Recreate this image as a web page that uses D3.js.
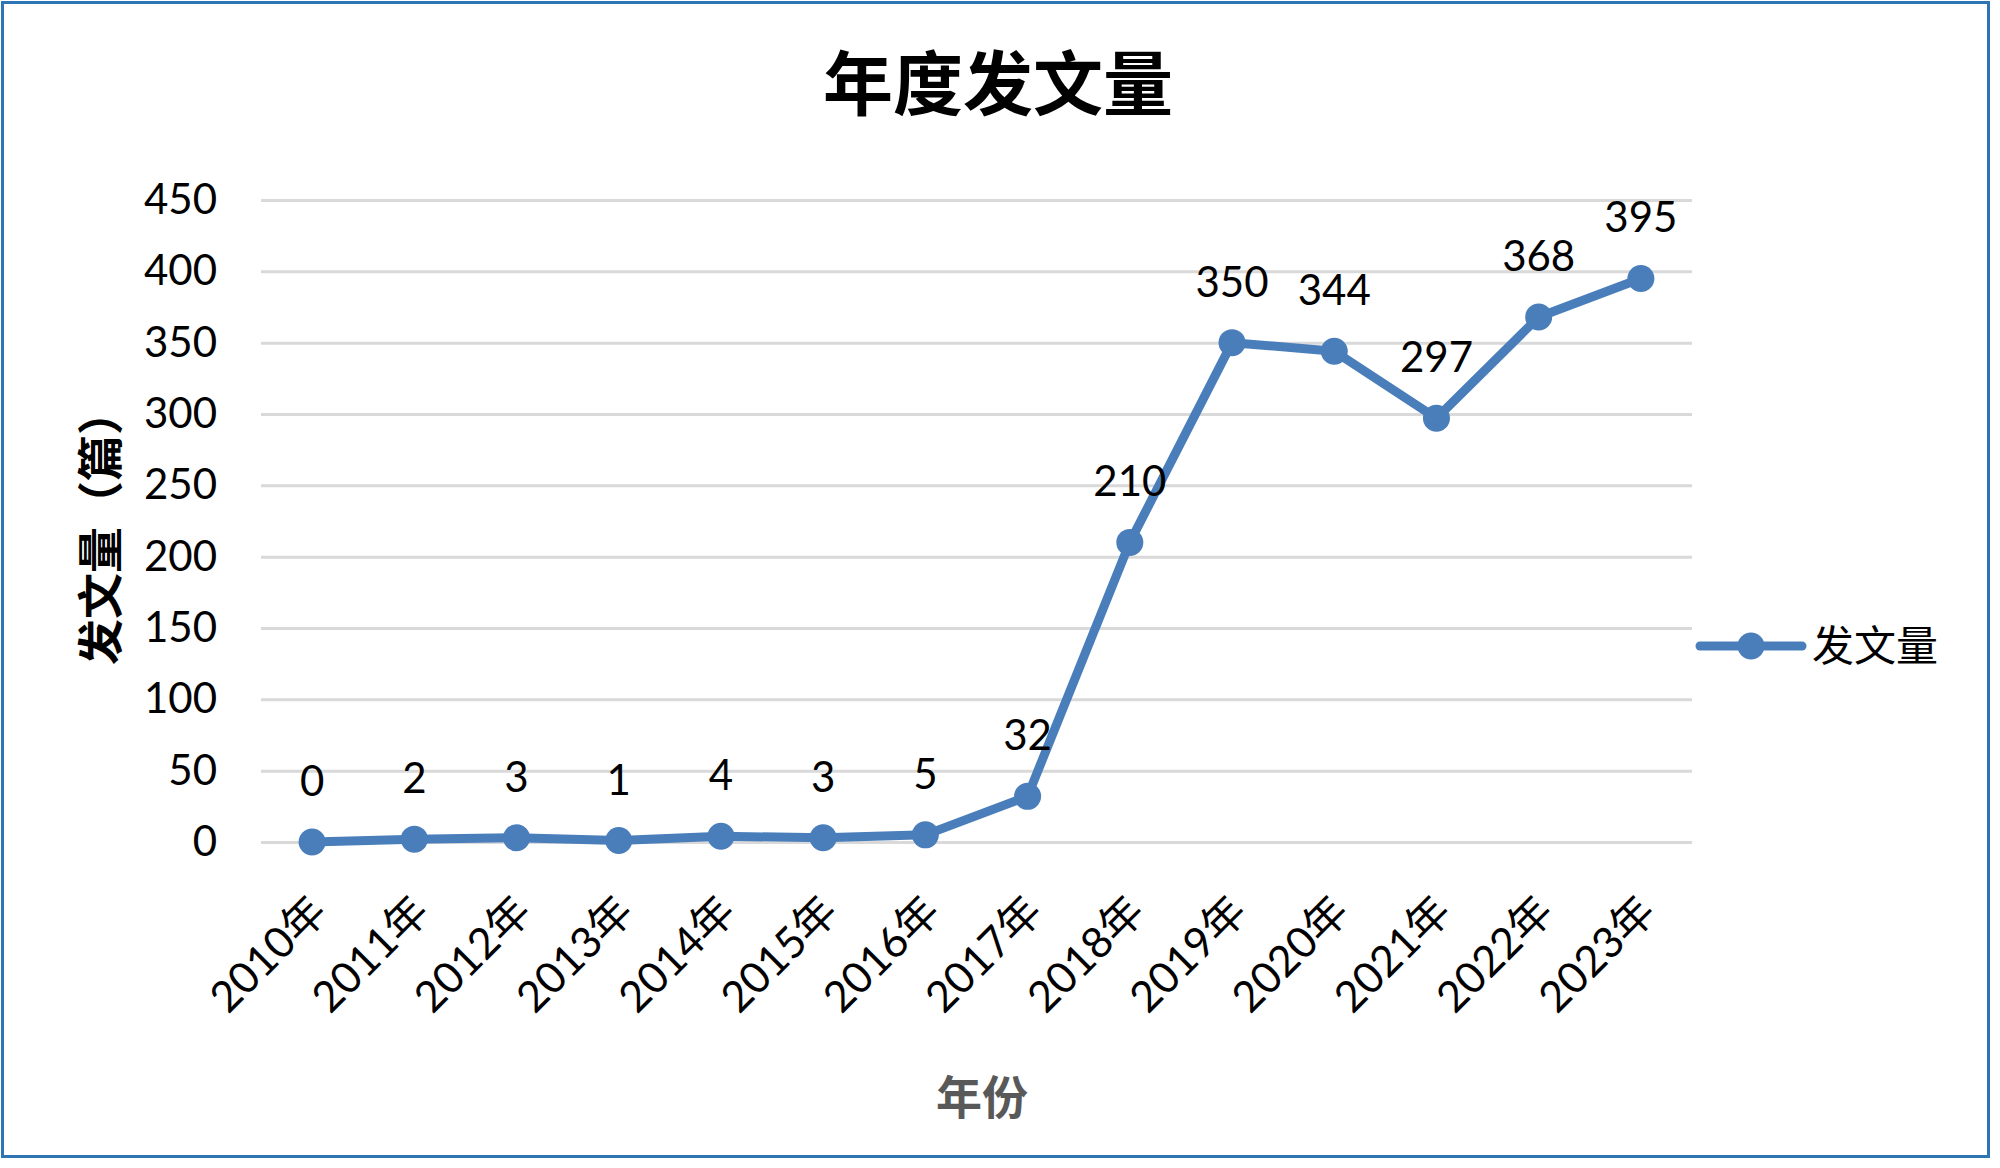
<!DOCTYPE html>
<html>
<head>
<meta charset="utf-8">
<script src="https://cdn.jsdelivr.net/npm/d3@7"></script>
<style>
	body { margin: 0; background: #fff; }
	svg { display: block; }
</style>
</head>
<body>
<div id="chart"></div>
<script>
	'use strict'
	// data
	var years = ["2010年", "2011年", "2012年", "2013年", "2014年", "2015年", "2016年",
				"2017年", "2018年", "2019年", "2020年", "2021年", "2022年", "2023年"];
	var counts = [0, 2, 3, 1, 4, 3, 5, 32, 210, 350, 344, 297, 368, 395];
	var yTicks = [0, 50, 100, 150, 200, 250, 300, 350, 400, 450];

	var chartTitle = "年度发文量",
		xTitle = "年份",
		yTitle = "发文量（篇）",
		seriesName = "发文量";

	var width = 2000, height = 1168;
	var margin = {left: 261, right: 308, top: 200, bottom: 326};
	var blue = "#4a7ebb";
	var numFont = "Lato, 'Noto Sans CJK SC', sans-serif";
	var cjkFont = "'Noto Sans CJK SC', sans-serif";

	var svg = d3.select("#chart").append("svg")
				.attr("width", width)
				.attr("height", height);

	// outer frame
	svg.append("rect")
		.attr("x", 2.5)
		.attr("y", 2.5)
		.attr("width", 1986)
		.attr("height", 1154)
		.attr("fill", "#fff")
		.attr("stroke", "#2e75b6")
		.attr("stroke-width", 3);

	var x = d3.scaleBand()
			.domain(years)
			.range([margin.left, width - margin.right]);
	var y = d3.scaleLinear()
			.domain([0, 450])
			.range([height - margin.bottom, margin.top]);

	// gridlines + y labels
	var yAxis = svg.append("g")
				.attr("transform", "translate(" + margin.left + ",0)")
				.call(d3.axisLeft(y)
						.tickValues(yTicks)
						.tickSize(-(width - margin.left - margin.right))
						.tickPadding(44));
	yAxis.select(".domain").remove();
	yAxis.selectAll(".tick line")
			.attr("stroke", "#d9d9d9")
			.attr("stroke-width", 3);
	yAxis.selectAll(".tick text")
			.attr("fill", "#000")
			.style("font-family", numFont)
			.style("font-size", "42px");

	// x labels, rotated
	var xAxis = svg.append("g")
				.attr("transform", "translate(0," + (height - margin.bottom) + ")")
				.call(d3.axisBottom(x).tickSize(0).tickPadding(0));
	xAxis.select(".domain").remove();
	xAxis.selectAll(".tick text")
			.attr("fill", "#000")
			.attr("dy", null)
			.attr("y", null)
			.attr("text-anchor", "end")
			.attr("transform", "translate(17,72) rotate(-45)")
			.style("font-family", numFont)
			.style("font-size", "43px");

	// line
	var cx = function(d, i){ return x(years[i]) + x.bandwidth() / 2; };
	var line = d3.line()
				.x(cx)
				.y(function(d){ return y(d); });

	svg.append("path")
		.datum(counts)
		.attr("d", line)
		.attr("fill", "none")
		.attr("stroke", blue)
		.attr("stroke-width", 9)
		.attr("stroke-linejoin", "round")
		.attr("stroke-linecap", "round");

	svg.append("g").selectAll("circle")
		.data(counts)
		.enter().append("circle")
			.attr("cx", cx)
			.attr("cy", function(d){ return y(d); })
			.attr("r", 13.5)
			.attr("fill", blue);

	// data labels
	svg.append("g").selectAll("text")
		.data(counts)
		.enter().append("text")
			.attr("x", cx)
			.attr("y", function(d){ return y(d) - 46; })
			.attr("text-anchor", "middle")
			.style("font-family", numFont)
			.style("font-size", "42px")
			.attr("fill", "#000")
			.text(function(d){ return d; });

	// titles
	svg.append("text")
		.attr("x", 998)
		.attr("y", 110)
		.attr("text-anchor", "middle")
		.style("font-family", cjkFont)
		.style("font-weight", 700)
		.style("font-size", "70px")
		.attr("fill", "#000")
		.text(chartTitle);

	svg.append("text")
		.attr("transform", "translate(117,527) rotate(-90)")
		.attr("text-anchor", "middle")
		.style("font-family", cjkFont)
		.style("font-weight", 700)
		.style("font-size", "46px")
		.attr("fill", "#000")
		.text(yTitle);

	svg.append("text")
		.attr("x", 982)
		.attr("y", 1114)
		.attr("text-anchor", "middle")
		.style("font-family", cjkFont)
		.style("font-weight", 700)
		.style("font-size", "46px")
		.attr("fill", "#595959")
		.text(xTitle);

	// legend
	var legend = svg.append("g")
				.attr("transform", "translate(1700,646)");
	legend.append("line")
		.attr("x1", 0)
		.attr("x2", 102)
		.attr("stroke", blue)
		.attr("stroke-width", 9)
		.attr("stroke-linecap", "round");
	legend.append("circle")
		.attr("cx", 51)
		.attr("r", 13.5)
		.attr("fill", blue);
	legend.append("text")
		.attr("x", 112)
		.attr("y", 15)
		.style("font-family", cjkFont)
		.style("font-size", "42px")
		.attr("fill", "#000")
		.text(seriesName);
</script>
</body>
</html>
